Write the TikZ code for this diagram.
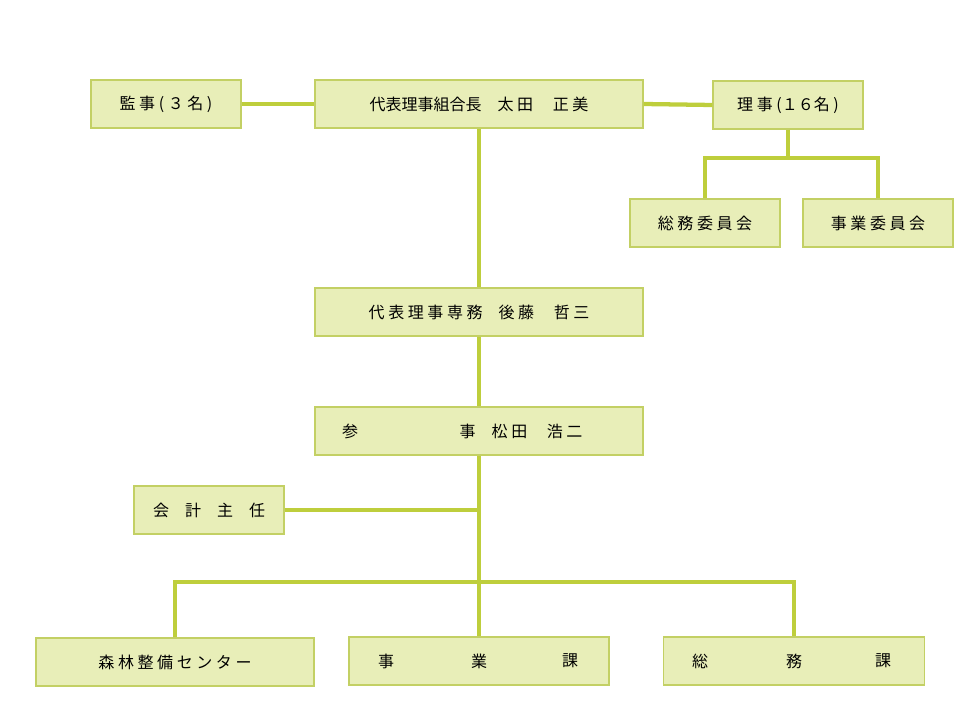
\documentclass[tikz,border=0pt]{standalone}
\usepackage{fontspec}
\setmainfont{Noto Sans CJK JP}
\newfontfamily\spc[LetterSpace=12]{Noto Sans CJK JP}
\begin{document}
\begin{tikzpicture}[x=0.75pt,y=-0.75pt,
  bx/.style={draw={rgb,255:red,195;green,208;blue,100},fill={rgb,255:red,232;green,238;blue,184},line width=0.8pt,minimum height=36pt,inner sep=0pt,font=\fontsize{12}{14}\selectfont},
  ln/.style={draw={rgb,255:red,190;green,206;blue,60},line width=3.2pt}]
\useasboundingbox (0,0) rectangle (960,720);
\newcommand\bb[4]{\node[bx,minimum width=#3*0.75pt] (#1) at (#2) {#4};}
\bb{kanji}{166,104}{150}{監 事 ( ３ 名 )}
\bb{kumi}{479,104}{328}{代表理事組合長　太 田　 正 美}
\bb{riji}{788,105}{150}{理 事 (１６名 )}
\bb{soi}{705,223}{150}{総 務 委 員 会}
\bb{jii}{878,223}{150}{事 業 委 員 会}
\bb{senmu}{479,312}{328}{代 表 理 事 専 務　後 藤　 哲 三}
\bb{sanji}{479,431}{328}{}
\node[font=\fontsize{12}{14}\selectfont] at (350,431) {参};
\node[font=\fontsize{12}{14}\selectfont,anchor=west] at (455,431) {事　松 田　 浩 二};
\bb{kaikei}{209,510}{150}{会　計　主　任}
\bb{shinrin}{175,662}{278}{森 林 整 備 セ ン タ ー}
\bb{jigyo}{479,661}{260}{}
\bb{somu}{794,661}{261}{}
\foreach \t/\xx in {事/386,業/479,課/570} \node[font=\fontsize{12}{14}\selectfont] at (\xx,661) {\t};
\foreach \t/\xx in {総/700,務/794,課/883} \node[font=\fontsize{12}{14}\selectfont] at (\xx,661) {\t};
\coordinate (r1) at (788,158);
\coordinate (c1) at (479,510);
\coordinate (c2) at (479,582);
\coordinate (l2) at (175,582);
\coordinate (rr2) at (794,582);
\draw[ln] (kanji.east) -- (kumi.west);
\draw[ln] (kumi.east) -- (riji.west);
\draw[ln] (riji.south) -- (r1);
\draw[ln] (soi.north) |- (r1) -| (jii.north);
\draw[ln] (kumi.south) -- (senmu.north);
\draw[ln] (senmu.south) -- (sanji.north);
\draw[ln] (sanji.south) -- (jigyo.north);
\draw[ln] (kaikei.east) -- (c1);
\draw[ln] (shinrin.north) |- (c2) -| (somu.north);
\end{tikzpicture}
\end{document}
